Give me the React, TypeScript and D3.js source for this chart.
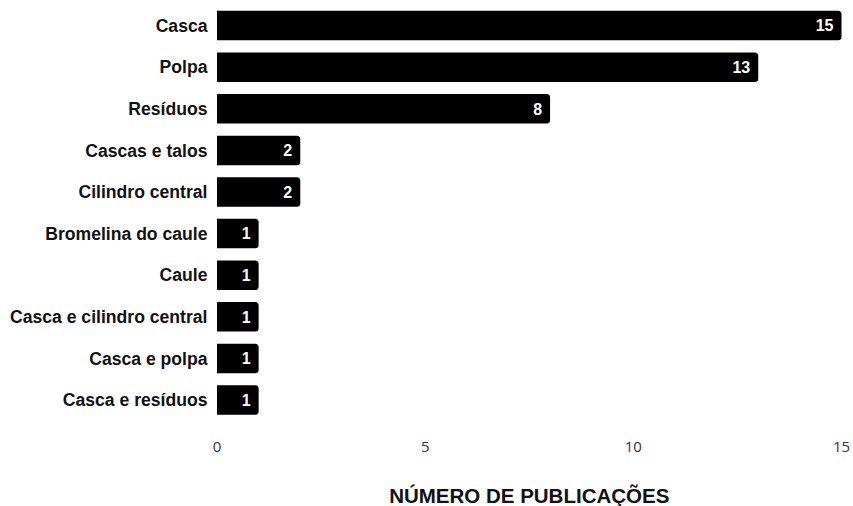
import React from "react";
import * as d3 from "d3";

const categories = [
  "Casca",
  "Polpa",
  "Resíduos",
  "Cascas e talos",
  "Cilindro central",
  "Bromelina do caule",
  "Caule",
  "Casca e cilindro central",
  "Casca e polpa",
  "Casca e resíduos",
];
const values = [15, 13, 8, 2, 2, 1, 1, 1, 1, 1];
const xTicks = [0, 5, 10, 15];
const axisTitle = "NÚMERO DE PUBLICAÇÕES";

const W = 853;
const H = 506;

function barPath(x0: number, x1: number, y: number, h: number, r: number) {
  const rr = Math.min(r, (x1 - x0) / 2, h / 2);
  return `M${x0},${y}H${x1 - rr}Q${x1},${y} ${x1},${y + rr}V${y + h - rr}Q${x1},${y + h} ${x1 - rr},${y + h}H${x0}Z`;
}

export default function App() {
  const x = d3.scaleLinear().domain([0, 15]).range([217, 841.5]);
  const y = d3
    .scaleBand<string>()
    .domain(categories)
    .range([4.8, 420.8])
    .paddingInner(0.29)
    .paddingOuter(0.145);
  const bw = y.bandwidth();
  return (
    <svg
      width={W}
      height={H}
      style={{ position: "absolute", left: 0, top: 0, background: "#fff" }}
      fontFamily="'Liberation Sans', Arial, sans-serif"
    >
      {categories.map((c, i) => {
        const yy = y(c)!;
        const v = values[i];
        return (
          <g key={c}>
            <path d={barPath(x(0), x(v), yy, bw, 3.5)} fill="#000" />
            <text
              x={207.5}
              y={yy + bw / 2}
              dy="0.35em"
              textAnchor="end"
              fontSize={17.6}
              fontWeight="bold"
              fill="#111"
            >
              {c}
            </text>
            <text
              x={x(v) - 8}
              y={yy + bw / 2}
              dy="0.36em"
              textAnchor="end"
              fontSize={16}
              fontWeight="bold"
              fill="#fff"
            >
              {v}
            </text>
          </g>
        );
      })}
      {xTicks.map((t) => (
        <text
          key={t}
          x={x(t)}
          y={447}
          dy="0.35em"
          textAnchor="middle"
          fontSize={15}
          fill="#333"
          fontFamily="'Open Sans', sans-serif"
        >
          {t}
        </text>
      ))}
      <text
        x={(x(0) + x(15)) / 2}
        y={495.5}
        dy="0.35em"
        textAnchor="middle"
        fontSize={20.5}
        fontWeight="bold"
        fill="#111"
      >
        {axisTitle}
      </text>
    </svg>
  );
}
